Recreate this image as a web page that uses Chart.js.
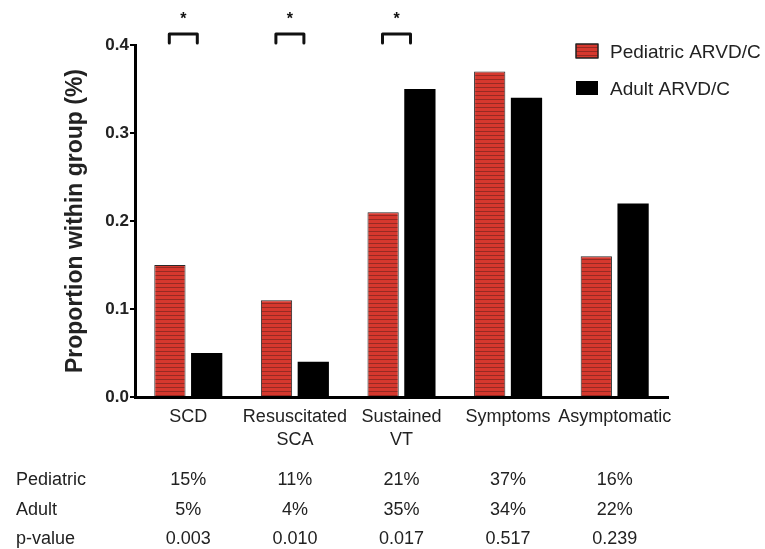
<!DOCTYPE html>
<html>
<head>
<meta charset="utf-8">
<script src="https://cdn.jsdelivr.net/npm/chart.js@4"></script>
<style>
  html, body { margin: 0; padding: 0; background: #fff; }
  #wrap { width: 765px; height: 549px; position: relative; }
</style>
</head>
<body>
<div id="wrap"><canvas id="chart" width="765" height="549"></canvas></div>
<script>
// chart data
const categories = [['SCD'], ['Resuscitated', 'SCA'], ['Sustained', 'VT'], ['Symptoms'], ['Asymptomatic']];
const pediatric = [0.15, 0.11, 0.21, 0.37, 0.16];
const adult = [0.05, 0.04, 0.35, 0.34, 0.22];
const pediatricText = ['15%', '11%', '21%', '37%', '16%'];
const adultText = ['5%', '4%', '35%', '34%', '22%'];
const pValues = ['0.003', '0.010', '0.017', '0.517', '0.239'];
const significant = [true, true, true, false, false];
const yTicks = [0, 0.1, 0.2, 0.3, 0.4];

const FONT = 'Liberation Sans, Arial, Helvetica, sans-serif';
const TEXT = '#222';

// striped red fill, like the figure
function stripes() {
    const c = document.createElement('canvas');
    c.width = 4; c.height = 4;
    const g = c.getContext('2d');
    g.fillStyle = '#d6382e';
    g.fillRect(0, 0, 4, 4);
    g.fillStyle = '#962a23';
    g.fillRect(0, 3, 4, 1);
    return g.createPattern(c, 'repeat');
}

const ctx = document.getElementById('chart').getContext('2d');
const redFill = stripes();

// asterisks, legend and the table under the axis
const extras = {
    id: 'extras',
    afterDraw(chart) {
        const c = chart.ctx;
        const x = chart.scales.x;
        c.save();

        // significance brackets
        c.strokeStyle = '#111';
        c.lineWidth = 3;
        c.lineJoin = 'round';
        c.lineCap = 'round';
        c.fillStyle = '#111';
        c.font = 'bold 16px ' + FONT;
        c.textAlign = 'center';
        c.textBaseline = 'middle';
        significant.forEach((s, i) => {
            if (!s) return;
            const cx = x.getPixelForValue(i) - 5;
            c.beginPath();
            c.moveTo(cx - 14, 43);
            c.lineTo(cx - 14, 34);
            c.lineTo(cx + 14, 34);
            c.lineTo(cx + 14, 43);
            c.stroke();
            c.fillText('*', cx, 20);
        });

        // legend
        c.lineWidth = 1.5;
        c.strokeStyle = '#222';
        c.fillStyle = redFill;
        c.fillRect(576, 44, 22, 14);
        c.strokeRect(576, 44, 22, 14);
        c.fillStyle = '#000';
        c.fillRect(576, 81, 22, 14);
        c.font = '19px ' + FONT;
        c.textAlign = 'left';
        c.fillStyle = TEXT;
        c.fillText('Pediatric ARVD/C', 610, 53);
        c.fillText('Adult ARVD/C', 610, 90);

        // table rows
        c.font = '18px ' + FONT;
        const rows = [['Pediatric', pediatricText, 480], ['Adult', adultText, 510], ['p-value', pValues, 539]];
        rows.forEach(r => {
            c.textAlign = 'left';
            c.fillText(r[0], 16, r[2]);
            c.textAlign = 'center';
            r[1].forEach((t, i) => c.fillText(t, x.getPixelForValue(i), r[2]));
        });
        c.restore();
    }
};

new Chart(ctx, {
    type: 'bar',
    data: {
        labels: categories,
        datasets: [{
            label: 'Pediatric ARVD/C',
            data: pediatric,
            backgroundColor: redFill,
            borderColor: '#2a2a2a',
            borderWidth: 1
        }, {
            label: 'Adult ARVD/C',
            data: adult,
            backgroundColor: '#000',
            borderColor: '#000',
            borderWidth: 0
        }]
    },
    options: {
        responsive: false,
        animation: false,
        layout: { padding: { top: 45, right: 97, bottom: 0, left: 0 } },
        categoryPercentage: 0.69,
        barPercentage: 0.85,
        plugins: {
            legend: { display: false },
            tooltip: { enabled: false }
        },
        scales: {
            x: {
                grid: { display: false },
                border: { display: true, color: '#000', width: 3 },
                ticks: {
                    color: TEXT,
                    padding: 1,
                    maxRotation: 0,
                    autoSkip: false,
                    font: { family: FONT, size: 18, lineHeight: 1.25 }
                },
                afterFit(scale) { scale.height = 152; }
            },
            y: {
                min: 0,
                max: 0.4,
                afterBuildTicks(scale) { scale.ticks = yTicks.map(v => ({ value: v })); },
                grid: { display: true, drawOnChartArea: false, color: '#000', lineWidth: 2, tickLength: 5 },
                border: { display: true, color: '#000', width: 3 },
                ticks: {
                    color: TEXT,
                    padding: 1,
                    font: { family: FONT, size: 17, weight: 'bold' },
                    callback: v => v.toFixed(1)
                },
                title: {
                    display: true,
                    text: 'Proportion within group (%)',
                    color: TEXT,
                    padding: { top: 62, bottom: 0 },
                    font: { family: FONT, size: 23, weight: 'bold' }
                },
                afterFit(scale) { scale.width = 135; }
            }
        }
    },
    plugins: [extras]
});
</script>
</body>
</html>
